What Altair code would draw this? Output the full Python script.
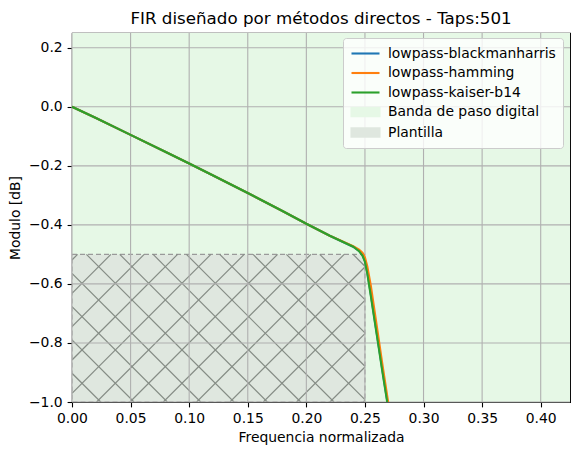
import altair as alt
import numpy as np
import pandas as pd

# ---------------- data ----------------
freq = [0.0, 0.02, 0.05, 0.08, 0.10, 0.12, 0.15, 0.18, 0.20, 0.22, 0.24,
        0.245, 0.248, 0.25, 0.252, 0.255, 0.26, 0.265, 0.27, 0.275]
blackmanharris = [0.0, -0.037, -0.095, -0.153, -0.192, -0.232, -0.292, -0.354, -0.396, -0.437, -0.474,
                  -0.488, -0.503, -0.522, -0.56, -0.635, -0.765, -0.895, -1.02, -1.15]
hamming = [0.0, -0.037, -0.095, -0.153, -0.192, -0.232, -0.292, -0.354, -0.396, -0.437, -0.472,
           -0.484, -0.495, -0.510, -0.54, -0.605, -0.74, -0.875, -1.005, -1.14]
kaiser_b14 = [0.0, -0.037, -0.095, -0.153, -0.192, -0.232, -0.292, -0.354, -0.396, -0.437, -0.474,
              -0.489, -0.505, -0.525, -0.565, -0.64, -0.77, -0.90, -1.025, -1.155]
series_names = ["lowpass-blackmanharris", "lowpass-hamming", "lowpass-kaiser-b14"]
series_colors = ["#1f77b4", "#ff7f0e", "#2ca02c"]

band_label = "Banda de paso digital"
band_range = [0.0, 0.5]
template_label = "Plantilla"
template_freq = [0.0, 0.25]
template_db = [-1.0, -0.5]

x_domain = [0.0, 0.425]
y_domain = [-1.0, 0.25]
x_ticks = [0.0, 0.05, 0.10, 0.15, 0.20, 0.25, 0.30, 0.35, 0.40]
y_ticks = [-1.0, -0.8, -0.6, -0.4, -0.2, 0.0, 0.2]

title_text = "FIR diseñado por métodos directos - Taps:501"
x_title = "Frequencia normalizada"
y_title = "Modulo [dB]"

# ---------------- layout ----------------
W, H = 498, 369
FONT = "DejaVu Sans"
FS = 13.9

rows = []
for name, vals in zip(series_names, [blackmanharris, hamming, kaiser_b14]):
    for f, v in zip(freq, vals):
        rows.append({"serie": name, "f": f, "db": v})
lines_df = pd.DataFrame(rows)

band_df = pd.DataFrame({"serie": [band_label], "f": [band_range[0]], "f2": [band_range[1]],
                        "db": [y_domain[0]], "db2": [y_domain[1]]})
tmpl_df = pd.DataFrame({"serie": [template_label], "f": [template_freq[0]], "f2": [template_freq[1]],
                        "db": [template_db[0]], "db2": [template_db[1]]})

# hatch ('x') lines inside the template, built in pixel space then mapped back to data
def px(x):
    return (x - x_domain[0]) / (x_domain[1] - x_domain[0]) * W
def py(y):
    return (y_domain[1] - y) / (y_domain[1] - y_domain[0]) * H
def ix(p):
    return x_domain[0] + p / W * (x_domain[1] - x_domain[0])
def iy(p):
    return y_domain[1] - p / H * (y_domain[1] - y_domain[0])

rx0, rx1 = px(template_freq[0]), px(template_freq[1])
ry0, ry1 = py(template_db[1]), py(template_db[0])
spacing = 33.33
segs = []
# x + y = c
c = 260.3 % spacing
while c < rx1 + ry1 + spacing:
    xa, xb = max(rx0, c - ry1), min(rx1, c - ry0)
    if xa < xb:
        segs.append((ix(xa), iy(c - xa), ix(xb), iy(c - xb)))
    c += spacing
# x - y = c
c = -240.3
while c > rx0 - ry1 - spacing:
    c -= spacing
while c < rx1 - ry0 + spacing:
    xa, xb = max(rx0, ry0 + c), min(rx1, ry1 + c)
    if xa < xb:
        segs.append((ix(xa), iy(xa - c), ix(xb), iy(xb - c)))
    c += spacing
hatch_df = pd.DataFrame(segs, columns=["f", "db", "f2", "db2"])

xgrid_df = pd.DataFrame({"f": x_ticks})
ygrid_df = pd.DataFrame({"db": y_ticks})

x_scale = alt.Scale(domain=x_domain, nice=False, zero=False)
y_scale = alt.Scale(domain=y_domain, nice=False, zero=False)

legend_domain = series_names + [band_label, template_label]
legend_range = series_colors + ["#e6f8e6", "#dfe7df"]
patch_expr = ("datum.label == '%s' || datum.label == '%s' ? "
              "'M-1,-0.6L3,-0.6L3,0.6L-1,0.6Z' : 'M-1,0L3,0'") % (band_label, template_label)

color_enc = alt.Color(
    "serie:N",
    scale=alt.Scale(domain=legend_domain, range=legend_range),
    sort=legend_domain,
    legend=alt.Legend(
        title=None, orient="none", legendX=271, legendY=5,
        symbolType=alt.ExprRef(expr=patch_expr),
        symbolSize=196, symbolStrokeWidth=2.1,
        labelFont=FONT, labelFontSize=FS, labelColor="black", labelLimit=0,
        labelOffset=21, rowPadding=3.5, padding=7,
        fillColor="rgba(255,255,255,0.8)", strokeColor="#cccccc",
        cornerRadius=3, symbolOpacity=1,
    ),
)

xax = alt.X("f:Q", scale=x_scale,
            axis=alt.Axis(title=x_title, values=x_ticks, format=".2f", grid=False,
                          labelFlush=False))
yax = alt.Y("db:Q", scale=y_scale,
            axis=alt.Axis(title=y_title, values=y_ticks, format=".1f", grid=False,
                          labelFlush=False))

band = alt.Chart(band_df).mark_rect(clip=True).encode(
    x=xax, x2="f2:Q", y=yax, y2="db2:Q", color=color_enc)

template = alt.Chart(tmpl_df).mark_rect(
    clip=True, stroke="#9a9a9a", strokeWidth=1.2, strokeDash=[5, 3]
).encode(x="f:Q", x2="f2:Q", y="db:Q", y2="db2:Q", color=color_enc)

hatch = alt.Chart(hatch_df).mark_rule(color="#858c85", strokeWidth=1.2, clip=True).encode(
    x="f:Q", x2="f2:Q", y="db:Q", y2="db2:Q")

xgrid = alt.Chart(xgrid_df).mark_rule(color="#b0b0b0", strokeWidth=1.1).encode(x="f:Q")
ygrid = alt.Chart(ygrid_df).mark_rule(color="#b0b0b0", strokeWidth=1.1).encode(y="db:Q")

lines = alt.Chart(lines_df).mark_line(strokeWidth=2.1, clip=True).encode(
    x="f:Q", y="db:Q", color=color_enc, detail="serie:N",
    order=alt.Order("f:Q"))

chart = alt.layer(band, template, hatch, xgrid, ygrid, lines).properties(
    width=W, height=H,
    title=alt.Title(title_text, font=FONT, fontSize=16.7, fontWeight="normal",
                    color="black", anchor="middle", offset=5),
    padding={"left": 72, "top": 33, "right": 8, "bottom": 53},
    autosize=alt.AutoSizeParams(type="none"),
).configure_view(
    stroke="black", strokeWidth=1.1
).configure_axis(
    labelFont=FONT, labelFontSize=FS, labelColor="black",
    titleFont=FONT, titleFontSize=FS, titleColor="black", titleFontWeight="normal",
    domainColor="black", domainWidth=1.1, tickColor="black", tickWidth=1.1, tickSize=4.9,
    labelPadding=4.9, zindex=1,
).configure_axisX(titlePadding=5).configure_axisY(titlePadding=6)

chart.save("out.html", embed_options={"renderer": "svg", "actions": False})
